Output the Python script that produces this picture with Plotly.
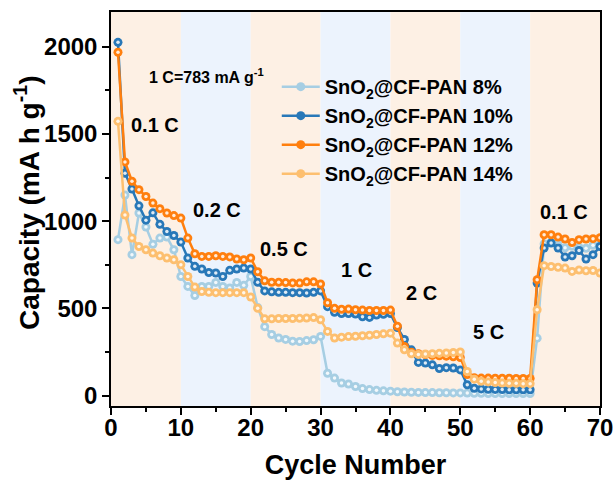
import plotly.graph_objects as go

cycles = list(range(1, 71))

cap_8 = [894, 1150, 808, 1047, 967, 868, 903, 909, 836, 683,
         626, 574, 626, 626, 649, 626, 617, 649, 632, 683,
         505, 395, 350, 330, 322, 312, 310, 315, 320, 339,
         128, 100, 72, 66, 52, 40, 34, 30, 27, 25,
         22, 20, 19, 18, 17, 17, 16, 16, 15, 15,
         14, 13, 13, 12, 12, 12, 11, 11, 11, 11,
         329, 870, 880, 866, 848, 856, 850, 845, 862, 866]

cap_10 = [2026, 1275, 1185, 1088, 1006, 1048, 982, 941, 918, 880,
          789, 741, 726, 706, 703, 683, 718, 726, 731, 726,
          650, 600, 595, 592, 592, 590, 590, 588, 592, 600,
          510, 478, 470, 470, 468, 452, 448, 462, 466, 470,
          390, 322, 262, 190, 186, 176, 155, 160, 158, 147,
          62, 42, 38, 36, 35, 34, 33, 33, 33, 33,
          645, 846, 875, 846, 794, 802, 832, 783, 808, 855]

cap_12 = [1969, 1340, 1229, 1181, 1142, 1104, 1072, 1047, 1032, 1018,
          903, 813, 798, 798, 802, 798, 795, 783, 779, 789,
          710, 658, 650, 650, 648, 646, 645, 652, 652, 640,
          532, 500, 495, 496, 492, 490, 488, 488, 488, 490,
          398, 282, 248, 240, 235, 230, 228, 226, 222, 218,
          120, 102, 100, 100, 99, 99, 99, 98, 98, 98,
          664, 922, 922, 909, 898, 878, 894, 898, 900, 905]

cap_14 = [1573, 1035, 903, 855, 836, 817, 802, 789, 779, 750,
          683, 622, 597, 592, 590, 590, 590, 590, 590, 565,
          500, 440, 440, 442, 442, 442, 443, 445, 447, 435,
          368, 330, 335, 338, 340, 343, 346, 350, 354, 358,
          301, 262, 240, 236, 238, 240, 242, 244, 247, 250,
          138, 94, 82, 78, 75, 72, 70, 70, 68, 68,
          492, 745, 740, 736, 731, 712, 720, 716, 717, 703]

series_names = ["SnO<sub>2</sub>@CF-PAN 8%", "SnO<sub>2</sub>@CF-PAN 10%",
                "SnO<sub>2</sub>@CF-PAN 12%", "SnO<sub>2</sub>@CF-PAN 14%"]
series_values = [cap_8, cap_10, cap_12, cap_14]
series_colors = ["#a6cee3", "#2878b8", "#ff7f0e", "#fdbf6f"]

rate_edges = [0, 10, 20, 30, 40, 50, 60, 70]
band_colors = ["#fdf0e4", "#ecf3fd"]
rate_labels = ["0.1 C", "0.2 C", "0.5 C", "1 C", "2 C", "5 C", "0.1 C"]
label_x = [6.3, 15.2, 24.8, 35.2, 44.5, 54.0, 64.9]
label_y = [1554, 1066, 842, 722, 588, 367, 1053]

FONT = "Liberation Sans, Arial, sans-serif"

fig = go.Figure()

for name, vals, col in zip(series_names, series_values, series_colors):
    fig.add_trace(go.Scatter(
        x=cycles, y=vals, name=name, mode="lines+markers",
        line=dict(color=col, width=2.5),
        marker=dict(color=col, size=9, line=dict(width=0)),
    ))
    fig.add_trace(go.Scatter(
        x=cycles, y=vals, mode="markers", showlegend=False, hoverinfo="skip",
        marker=dict(color="rgba(255,255,255,0.85)", size=3.5, line=dict(width=0)),
    ))

shapes = []
for i in range(len(rate_edges) - 1):
    shapes.append(dict(type="rect", xref="x", yref="paper",
                       x0=rate_edges[i], x1=rate_edges[i + 1], y0=0, y1=1,
                       fillcolor=band_colors[i % 2], line=dict(width=0),
                       layer="below"))

annotations = []
for t, ax_, ay_ in zip(rate_labels, label_x, label_y):
    annotations.append(dict(x=ax_, y=ay_, xref="x", yref="y", text=t,
                            showarrow=False,
                            font=dict(family=FONT, size=20, color="black", weight="bold")))
annotations.append(dict(x=13.7, y=1831, xref="x", yref="y",
                        text="1 C=783 mA g<sup>-1</sup>", showarrow=False,
                        font=dict(family=FONT, size=16, color="black", weight="bold")))
# y-axis title
annotations.append(dict(x=-0.172, y=0.515, xref="paper", yref="paper",
                        text="Capacity (mA h g<sup>-1</sup>)", textangle=-90,
                        showarrow=False, xanchor="center", yanchor="middle",
                        font=dict(family=FONT, size=28, color="black", weight="bold")))

fig.update_layout(
    width=613, height=480,
    margin=dict(l=111, r=13, t=12, b=74),
    paper_bgcolor="white", plot_bgcolor="white",
    shapes=shapes, annotations=annotations,
    font=dict(family=FONT, color="black"),
    legend=dict(x=0.339, y=0.86, xanchor="left", yanchor="top",
                itemwidth=38, bgcolor="rgba(0,0,0,0)",
                font=dict(family=FONT, size=20, color="black", weight="bold")),
    showlegend=True,
)

fig.update_xaxes(
    range=[0, 70], tickvals=[0, 10, 20, 30, 40, 50, 60, 70],
    automargin=False, ticklabeloverflow="allow", ticklabelstandoff=-8,
    showgrid=False, zeroline=False,
    showline=True, linecolor="black", linewidth=1.5, mirror=True,
    ticks="outside", ticklen=7, tickwidth=1.5, tickcolor="black",
    minor=dict(dtick=5, ticks="outside", ticklen=4, tickwidth=1.5, tickcolor="black"),
    tickfont=dict(family=FONT, size=24, color="black", weight="bold"),
    title=dict(text="Cycle Number", standoff=19,
               font=dict(family=FONT, size=27, color="black", weight="bold")),
)
fig.update_yaxes(
    range=[-60, 2200], tickvals=[0, 500, 1000, 1500, 2000],
    automargin=False,
    showgrid=False, zeroline=False,
    showline=True, linecolor="black", linewidth=1.5, mirror=True,
    ticks="outside", ticklen=7, tickwidth=1.5, tickcolor="black",
    minor=dict(dtick=250, ticks="outside", ticklen=4, tickwidth=1.5, tickcolor="black"),
    tickfont=dict(family=FONT, size=24, color="black", weight="bold"),
)

fig.write_html("out.html")
